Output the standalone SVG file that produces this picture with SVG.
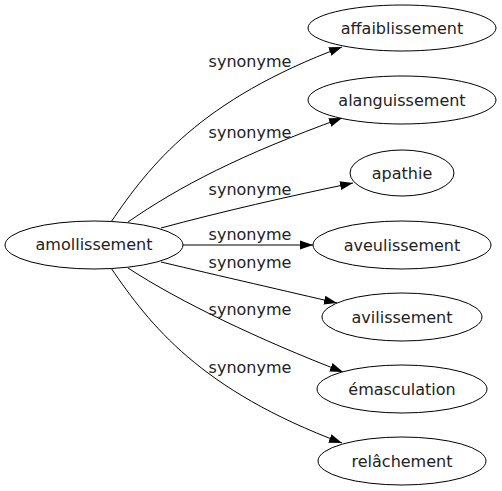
<svg xmlns="http://www.w3.org/2000/svg" width="502" height="491" viewBox="0 0 502 491">
<defs>
<style>
.n ellipse{fill:#fff;stroke:#000;stroke-width:1}
text{font-family:"DejaVu Sans",sans-serif;font-size:16px;fill:#222;text-anchor:middle}
.e path{fill:none;stroke:#000;stroke-width:1}
</style>
<marker id="a" viewBox="0 0 13 10" refX="13" refY="5" markerWidth="13" markerHeight="10" markerUnits="userSpaceOnUse" orient="auto">
<path d="M0,0.5 L13,5 L0,9.5 Z" fill="#000"/>
</marker>
</defs>
<rect width="502" height="491" fill="#fff"/>
<g id="edges" class="e">
<path d="M111,222 C150,165 200,100 342,47" marker-end="url(#a)"/>
<path d="M128,222 C180,186 240,155 342,118" marker-end="url(#a)"/>
<path d="M161,228 C220,212 290,196 353,183" marker-end="url(#a)"/>
<path d="M183,245 L313,245" marker-end="url(#a)"/>
<path d="M161,262 C220,276 290,292 337,303" marker-end="url(#a)"/>
<path d="M128,268 C180,302 260,340 343,372" marker-end="url(#a)"/>
<path d="M111,268 C150,325 200,390 342,443" marker-end="url(#a)"/>
<text x="250" y="67">synonyme</text>
<text x="250" y="138">synonyme</text>
<text x="250" y="195">synonyme</text>
<text x="250" y="240">synonyme</text>
<text x="250" y="268">synonyme</text>
<text x="250" y="315">synonyme</text>
<text x="250" y="373">synonyme</text>
</g>
<g id="amollissement" class="n"><ellipse cx="94" cy="245" rx="89" ry="24"/><text x="94" y="250">amollissement</text></g>
<g id="affaiblissement" class="n"><ellipse cx="402" cy="28" rx="94" ry="23"/><text x="402" y="34">affaiblissement</text></g>
<g id="alanguissement" class="n"><ellipse cx="402" cy="100" rx="94" ry="24"/><text x="402" y="106">alanguissement</text></g>
<g id="apathie" class="n"><ellipse cx="402" cy="173" rx="52" ry="23"/><text x="402" y="179">apathie</text></g>
<g id="aveulissement" class="n"><ellipse cx="402" cy="245" rx="89" ry="24"/><text x="402" y="251">aveulissement</text></g>
<g id="avilissement" class="n"><ellipse cx="402" cy="317" rx="80" ry="24"/><text x="402" y="323">avilissement</text></g>
<g id="emasculation" class="n"><ellipse cx="402" cy="389" rx="85" ry="24"/><text x="402" y="395">émasculation</text></g>
<g id="relachement" class="n"><ellipse cx="402" cy="461" rx="84" ry="24"/><text x="402" y="467">relâchement</text></g>
</svg>
